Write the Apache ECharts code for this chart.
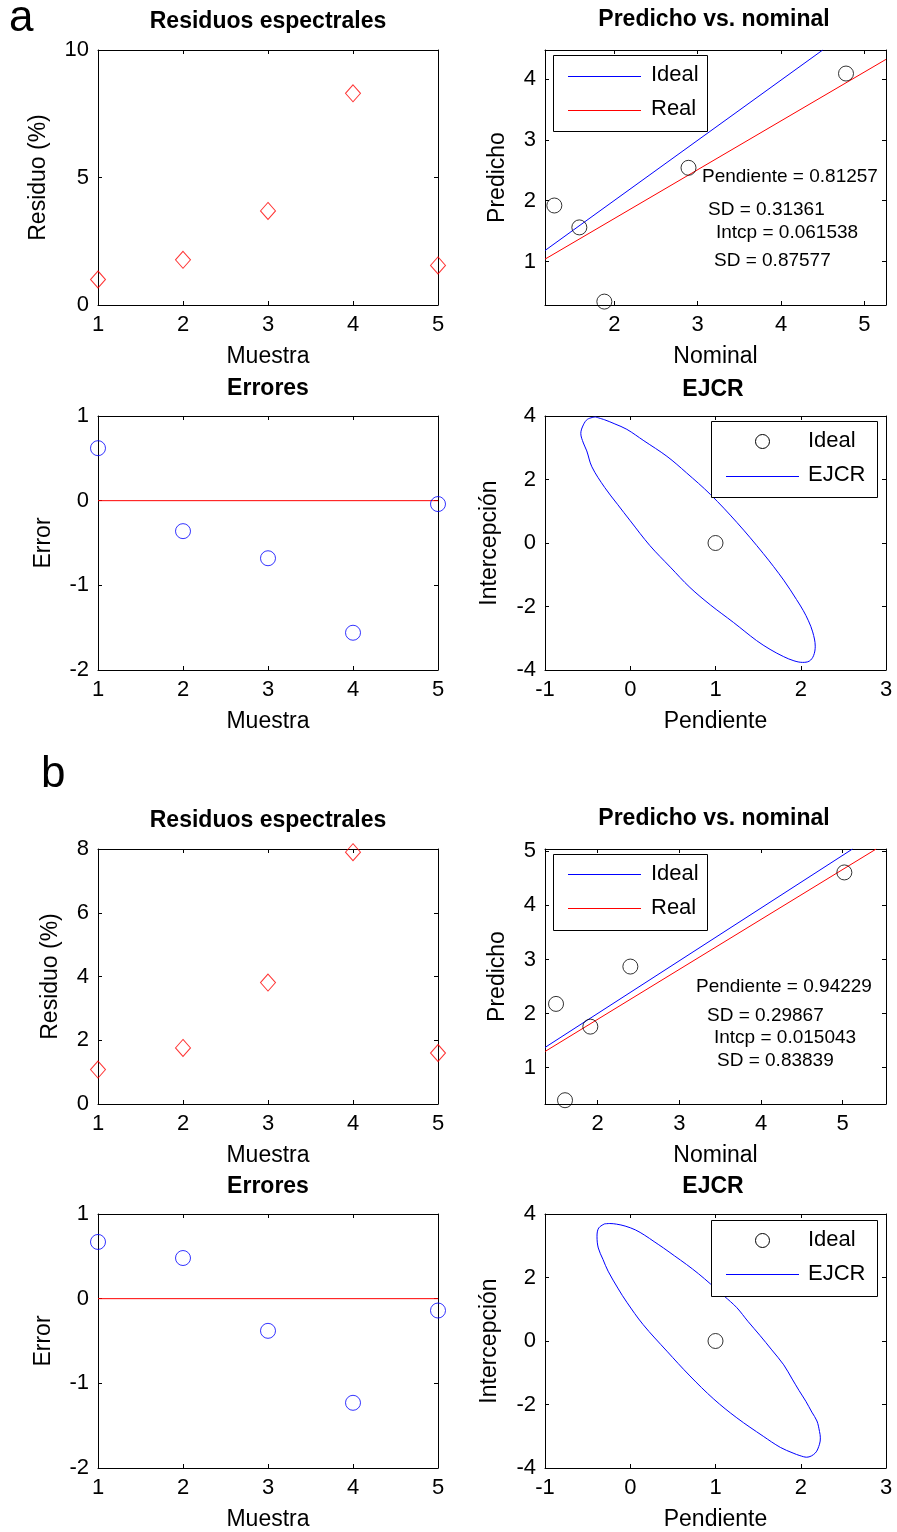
<!DOCTYPE html>
<html>
<head>
<meta charset="utf-8">
<script src="https://cdn.jsdelivr.net/npm/echarts@6/dist/echarts.min.js"></script>
<style>
html,body{margin:0;padding:0;background:#fff;}
#chart{width:897px;height:1532px;}
</style>
</head>
<body>
<div id="chart"></div>
<script>
// ---------- DATA ----------
const muestras = [1, 2, 3, 4, 5];

// Panel a
const residuosA = [1.00, 1.77, 3.69, 8.30, 1.55];
const erroresA = [0.62, -0.36, -0.68, -1.56, -0.04];
const nominalA = [1.28, 1.58, 1.88, 2.89, 4.78];
const predichoA = [1.92, 1.56, 0.34, 2.54, 4.09];
const idealLineA = [[1.168, 1.18], [4.50, 4.476]];
const realLineA = [[1.168, 1.038], [5.26, 4.323]];
const ejcrA = [
  [-0.41, 3.97], [-0.50, 3.90], [-0.55, 3.72], [-0.58, 3.45], [-0.55, 3.15], [-0.51, 2.90],
  [-0.45, 2.40], [-0.30, 1.75], [-0.15, 1.22], [0.00, 0.70], [0.23, -0.08], [0.47, -0.76],
  [0.70, -1.40], [0.94, -1.95], [1.21, -2.50], [1.48, -3.07], [1.64, -3.35], [1.80, -3.58],
  [1.92, -3.71], [2.02, -3.76], [2.10, -3.72], [2.15, -3.55], [2.17, -3.25], [2.14, -2.80],
  [2.09, -2.45], [2.03, -2.13], [1.95, -1.78], [1.80, -1.17], [1.56, -0.33], [1.25, 0.65],
  [0.94, 1.53], [0.66, 2.21], [0.43, 2.73], [0.16, 3.22], [-0.04, 3.58], [-0.18, 3.75],
  [-0.30, 3.88], [-0.41, 3.97]
];
const statsA = ['Pendiente = 0.81257', 'SD = 0.31361', 'Intcp = 0.061538', 'SD = 0.87577'];

// Panel b
const residuosB = [1.08, 1.76, 3.81, 7.90, 1.60];
const erroresB = [0.67, 0.48, -0.38, -1.23, -0.14];
const nominalB = [1.49, 1.60, 1.91, 2.40, 5.02];
const predichoB = [2.18, 0.40, 1.76, 2.87, 4.61];
const idealLineB = [[1.355, 1.375], [5.12, 5.043]];
const realLineB = [[1.355, 1.30], [5.41, 5.043]];
const ejcrB = [
  [-0.30, 3.69], [-0.37, 3.56], [-0.39, 3.30], [-0.375, 2.93], [-0.32, 2.57], [-0.26, 2.20],
  [-0.14, 1.64], [-0.04, 1.22], [0.15, 0.52], [0.43, -0.32], [0.70, -1.10], [0.98, -1.83],
  [1.25, -2.42], [1.56, -3.00], [1.76, -3.35], [1.91, -3.53], [1.99, -3.61], [2.07, -3.66],
  [2.17, -3.53], [2.22, -3.25], [2.23, -3.05], [2.22, -2.85], [2.19, -2.52], [2.13, -2.24],
  [2.06, -1.90], [1.98, -1.56], [1.90, -1.20], [1.80, -0.75], [1.66, -0.28], [1.52, 0.18],
  [1.38, 0.62], [1.25, 1.05], [1.10, 1.42], [0.94, 1.80], [0.80, 2.12], [0.66, 2.41],
  [0.52, 2.68], [0.39, 2.93], [0.28, 3.13], [0.17, 3.33], [0.06, 3.50], [-0.06, 3.62],
  [-0.16, 3.68], [-0.24, 3.70], [-0.30, 3.69]
];
const statsB = ['Pendiente = 0.94229', 'SD = 0.29867', 'Intcp = 0.015043', 'SD = 0.83839'];

const idealPoint = [[1, 0]];
const zeroLine = [[1, 0], [5, 0]];

// Tick values / labels
const ticksMuestra = [1, 2, 3, 4, 5];
const ticksResA = [0, 5, 10];
const ticksResB = [0, 2, 4, 6, 8];
const ticksError = [-2, -1, 0, 1];
const ticksNomA = [2, 3, 4, 5];
const ticksPredA = [1, 2, 3, 4];
const ticksNomB = [2, 3, 4, 5];
const ticksPredB = [1, 2, 3, 4, 5];
const ticksPend = [-1, 0, 1, 2, 3];
const ticksIntc = [-4, -2, 0, 2, 4];

const titles = ['Residuos espectrales', 'Predicho vs. nominal', 'Errores', 'EJCR'];
const legendPred = ['Ideal', 'Real'];
const legendEjcr = ['Ideal', 'EJCR'];

// ---------- LAYOUT ----------
const FONT = '"Liberation Sans", Arial, Helvetica, sans-serif';
const BLUE = '#0000ff', RED = '#ff0000', BLACK = '#000000';

const panels = [
  // a
  {grid:[98, 50, 340, 255], x:[1, 5, ticksMuestra, 'Muestra'], y:[0, 10, ticksResA, 'Residuo (%)', 48], title:[titles[0], 268, 22]},
  {grid:[545, 50, 341, 255], x:[1.168, 5.26, ticksNomA, 'Nominal'], y:[0.284, 4.477, ticksPredA, 'Predicho', 36], title:[titles[1], 714, 20]},
  {grid:[98, 416, 340, 254], x:[1, 5, ticksMuestra, 'Muestra'], y:[-2, 1, ticksError, 'Error', 43], title:[titles[2], 268, 389]},
  {grid:[545, 416, 341, 254], x:[-1, 3, ticksPend, 'Pendiente'], y:[-4, 4, ticksIntc, 'Intercepción', 44], title:[titles[3], 713, 390]},
  // b
  {grid:[98, 849, 340, 255], x:[1, 5, ticksMuestra, 'Muestra'], y:[0, 8, ticksResB, 'Residuo (%)', 36], title:[titles[0], 268, 821]},
  {grid:[545, 849, 341, 255], x:[1.355, 5.53, ticksNomB, 'Nominal'], y:[0.33, 5.043, ticksPredB, 'Predicho', 36], title:[titles[1], 714, 819]},
  {grid:[98, 1214, 340, 255], x:[1, 5, ticksMuestra, 'Muestra'], y:[-2, 1, ticksError, 'Error', 43], title:[titles[2], 268, 1187]},
  {grid:[545, 1214, 341, 255], x:[-1, 3, ticksPend, 'Pendiente'], y:[-4, 4, ticksIntc, 'Intercepción', 44], title:[titles[3], 713, 1187]}
];

const grids = [], xAxes = [], yAxes = [], graphics = [];
const N = panels.length;

function axis(gi, min, max, ticks, opts) {
  return Object.assign({
    type: 'value', gridIndex: gi, min: min, max: max,
    splitLine: {show: false},
    axisLine: {show: true, onZero: false, lineStyle: {color: BLACK, width: 1}},
    axisTick: {show: true, inside: true, length: 4, customValues: ticks, lineStyle: {color: BLACK, width: 1}},
    axisLabel: {show: true, customValues: ticks, color: BLACK, fontSize: 22, fontFamily: FONT, margin: 9},
    nameLocation: 'middle',
    nameTextStyle: {color: BLACK, fontSize: 23, fontFamily: FONT}
  }, opts);
}

panels.forEach((p, i) => {
  grids.push({left: p.grid[0], top: p.grid[1], width: p.grid[2], height: p.grid[3], containLabel: false, show: true, backgroundColor: '#fff', borderWidth: 0});
  xAxes[i] = axis(i, p.x[0], p.x[1], p.x[2], {position: 'bottom', name: p.x[3], nameGap: 40});
  xAxes[N + i] = axis(i, p.x[0], p.x[1], p.x[2], {position: 'top', axisLabel: {show: false}, name: ''});
  yAxes[i] = axis(i, p.y[0], p.y[1], p.y[2], {position: 'left', name: p.y[3], nameGap: p.y[4], nameRotate: 90});
  yAxes[N + i] = axis(i, p.y[0], p.y[1], p.y[2], {position: 'right', axisLabel: {show: false}, name: ''});
  graphics.push({type: 'text', x: p.title[1], y: p.title[2], z: 100,
    style: {text: p.title[0], fill: BLACK, font: 'bold 23px ' + FONT, align: 'center', verticalAlign: 'middle', textAlign: 'center', textVerticalAlign: 'middle'}});
});

function txt(t, x, y, size, align) {
  return {type: 'text', x: x, y: y, z: 100,
    style: {text: t, fill: BLACK, font: size + 'px ' + FONT, align: align || 'left', verticalAlign: 'middle', textAlign: align || 'left', textVerticalAlign: 'middle'}};
}
// panel letters
graphics.push(txt('a', 9, 19, 44));
graphics.push(txt('b', 41, 775, 44));

// legends for predicho vs nominal
function legendPredBox(top, o) {
  return [
    {type: 'rect', z: 100, shape: {x: 553.5, y: top + 0.5, width: 154, height: 76}, style: {fill: '#fff', stroke: BLACK, lineWidth: 1}},
    {type: 'line', z: 101, shape: {x1: 568, y1: top + o, x2: 641, y2: top + o}, style: {stroke: BLUE, lineWidth: 1}},
    {type: 'line', z: 101, shape: {x1: 568, y1: top + o + 34, x2: 641, y2: top + o + 34}, style: {stroke: RED, lineWidth: 1}},
    Object.assign(txt(legendPred[0], 651, top + 20, 22), {z: 101}),
    Object.assign(txt(legendPred[1], 651, top + 54, 22), {z: 101})
  ];
}
function legendEjcrBox(top, o) {
  return [
    {type: 'rect', z: 100, shape: {x: 711.5, y: top + 0.5, width: 166, height: 76}, style: {fill: '#fff', stroke: BLACK, lineWidth: 1}},
    {type: 'circle', z: 101, shape: {cx: 762.5, cy: top + 20.5, r: 7}, style: {fill: 'none', stroke: BLACK, lineWidth: 1}},
    {type: 'line', z: 101, shape: {x1: 726, y1: top + o, x2: 799, y2: top + o}, style: {stroke: BLUE, lineWidth: 1}},
    Object.assign(txt(legendEjcr[0], 808, top + 20, 22), {z: 101}),
    Object.assign(txt(legendEjcr[1], 808, top + 54, 22), {z: 101})
  ];
}
graphics.push(...legendPredBox(55, 21.5), ...legendPredBox(854, 20.5), ...legendEjcrBox(421, 55.5), ...legendEjcrBox(1220, 54.5));

// stats annotations
const statPosA = [[702, 177], [708, 210], [716, 233], [714, 261]];
const statPosB = [[696, 987], [707, 1016], [714, 1038], [717, 1061]];
statsA.forEach((s, k) => graphics.push(txt(s, statPosA[k][0], statPosA[k][1], 19)));
statsB.forEach((s, k) => graphics.push(txt(s, statPosB[k][0], statPosB[k][1], 19)));

// ---------- SERIES ----------
const zip = (xs, ys) => xs.map((x, k) => [x, ys[k]]);
const series = [];
function scatter(gi, data, symbol, size, color) {
  series.push({type: 'scatter', xAxisIndex: gi, yAxisIndex: gi, data: data, symbol: symbol, symbolSize: size, clip: false, z: 5,
    itemStyle: {color: 'rgba(0,0,0,0)', borderColor: color, borderWidth: 1}, emphasis: {disabled: true}, silent: true});
}
function line(gi, data, color, smooth) {
  series.push({type: 'line', xAxisIndex: gi, yAxisIndex: gi, data: data, showSymbol: false, symbol: 'none', smooth: smooth || false, clip: true, z: 3,
    lineStyle: {color: color, width: 1}, emphasis: {disabled: true}, silent: true, animation: false});
}

// a
scatter(0, zip(muestras, residuosA), 'diamond', [15, 17], RED);
line(1, idealLineA, BLUE);
line(1, realLineA, RED);
scatter(1, zip(nominalA, predichoA), 'circle', 15, BLACK);
line(2, zeroLine, RED);
scatter(2, zip(muestras, erroresA), 'circle', 15, BLUE);
line(3, ejcrA, BLUE, 0.35);
scatter(3, idealPoint, 'circle', 15, BLACK);
// b
scatter(4, zip(muestras, residuosB), 'diamond', [15, 17], RED);
line(5, idealLineB, BLUE);
line(5, realLineB, RED);
scatter(5, zip(nominalB, predichoB), 'circle', 15, BLACK);
line(6, zeroLine, RED);
scatter(6, zip(muestras, erroresB), 'circle', 15, BLUE);
line(7, ejcrB, BLUE, 0.35);
scatter(7, idealPoint, 'circle', 15, BLACK);

const chart = echarts.init(document.getElementById('chart'), null, {renderer: 'canvas'});
chart.setOption({
  backgroundColor: '#fff',
  animation: false,
  textStyle: {fontFamily: FONT},
  grid: grids,
  xAxis: xAxes,
  yAxis: yAxes,
  series: series,
  graphic: graphics
});
</script>
</body>
</html>
